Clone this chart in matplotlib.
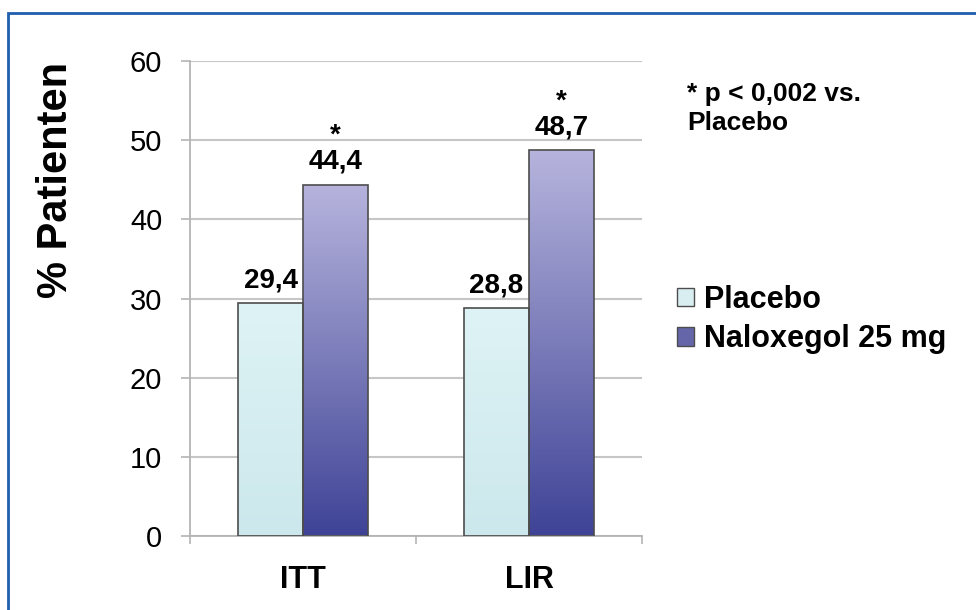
import matplotlib
matplotlib.use("Agg")
import matplotlib.pyplot as plt
import numpy as np
from matplotlib.colors import LinearSegmentedColormap
from matplotlib.patches import Rectangle, Patch

plt.rcParams['font.family'] = ['Liberation Sans', 'DejaVu Sans']

categories = ['ITT', 'LIR']
placebo = [29.4, 28.8]
naloxegol = [44.4, 48.7]
series_names = ['Placebo', 'Naloxegol 25 mg']
significant = [True, True]
y_ticks = [0, 10, 20, 30, 40, 50, 60]
sig_note = '* p < 0,002 vs.\nPlacebo'


def fmt(v):
    return f'{v:.1f}'.replace('.', ',')


fig = plt.figure(figsize=(9.76, 6.1), dpi=100)
ax = fig.add_axes([190 / 976, 1 - 536 / 610, 452 / 976, 475 / 610])

x = np.arange(len(categories))
w = 0.2875
edge = '#4d4d4d'

bars_pl = ax.bar(x - w / 2, placebo, w, edgecolor=edge, linewidth=1.2, zorder=3)
bars_nx = ax.bar(x + w / 2, naloxegol, w, edgecolor=edge, linewidth=1.2, zorder=3)

# vertical gradient fills, clipped to each bar
cmap_pl = LinearSegmentedColormap.from_list('pl', ['#cce8ec', '#def3f5'])
cmap_nx = LinearSegmentedColormap.from_list('nx', ['#3f4396', '#b6b4dd'])
grad = np.linspace(0, 1, 256).reshape(-1, 1)
for bars, cmap in [(bars_pl, cmap_pl), (bars_nx, cmap_nx)]:
    for b in bars:
        x0, y0 = b.get_x(), b.get_y()
        im = ax.imshow(grad, cmap=cmap, origin='lower', aspect='auto',
                       extent=[x0, x0 + b.get_width(), y0, y0 + b.get_height()],
                       zorder=2, interpolation='bilinear')
        im.set_clip_path(b)
        b.set_facecolor('none')

# value labels and significance stars
for bars, vals in [(bars_pl, placebo), (bars_nx, naloxegol)]:
    for b, v in zip(bars, vals):
        ax.annotate(fmt(v), (b.get_x() + b.get_width() / 2, v), xytext=(0, 11.5),
                    textcoords='offset points', ha='center', va='baseline',
                    fontsize=20, fontweight='bold')
for b, v, s in zip(bars_nx, naloxegol, significant):
    if s:
        ax.annotate('*', (b.get_x() + b.get_width() / 2, v), xytext=(0, 30),
                    textcoords='offset points', ha='center', va='baseline',
                    fontsize=20, fontweight='bold')

ax.set_xlim(-0.5, len(categories) - 0.5)
ax.set_ylim(0, 60)
ax.set_yticks(y_ticks)
ax.set_xticks(x)
ax.set_xticklabels(categories, fontsize=22, fontweight='bold')
ax.set_xticks(np.arange(len(categories) + 1) - 0.5, minor=True)

ax.yaxis.grid(True, color='#c6c6c6', linewidth=1.5)
ax.set_axisbelow(True)
for side in ['top', 'right']:
    ax.spines[side].set_visible(False)
for side in ['left', 'bottom']:
    ax.spines[side].set_color('#b4b4b4')
    ax.spines[side].set_linewidth(1.3)

ax.tick_params(axis='y', length=6.5, width=1.2, color='#b4b4b4', pad=13.5, labelsize=21)
ax.tick_params(axis='x', which='major', length=0, pad=21)
ax.tick_params(axis='x', which='minor', length=6, width=1.2, color='#b4b4b4')

fig.text(56 / 976, 1 - 180 / 610, '% Patienten', rotation=90, ha='center', va='center',
         fontsize=30, fontweight='bold')

handles = [Patch(facecolor='#d8eef1', edgecolor=edge, linewidth=1.0),
           Patch(facecolor='#6565aa', edgecolor=edge, linewidth=1.0)]
fig.legend(handles, series_names, loc='upper left', bbox_to_anchor=(677 / 976, 1 - 285 / 610),
           frameon=False, borderpad=0, borderaxespad=0, handlelength=0.55, handleheight=0.55,
           handletextpad=0.35, labelspacing=0.3, prop={'weight': 'bold', 'size': 22})

fig.text(687 / 976, 1 - 82 / 610, sig_note, ha='left', va='top', fontsize=19,
         fontweight='bold', linespacing=1.25)

# blue frame on the left and top
fig.add_artist(Rectangle((8 / 976, -0.1), 2, 1 - 13 / 610 + 0.1, transform=fig.transFigure,
                         fill=False, edgecolor='#1f5fae', linewidth=2))

fig.savefig('out.png', dpi=100)
